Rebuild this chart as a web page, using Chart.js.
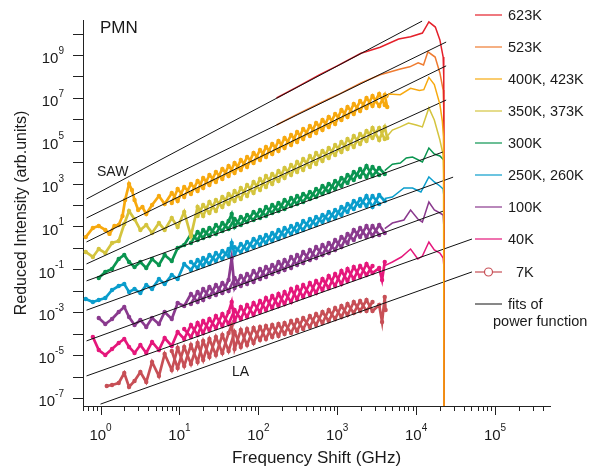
<!DOCTYPE html>
<html>
<head>
<meta charset="utf-8">
<script src="https://cdn.jsdelivr.net/npm/chart.js@4.4.1/dist/chart.umd.min.js"></script>
<style>
  html, body { margin: 0; padding: 0; background: #fff; }
</style>
</head>
<body>
<canvas id="chart" width="600" height="469"></canvas>
<script>
// [frequency GHz, reduced intensity]
const red623 = [[170,9.8e6],[300,3e7],[600,1.2e8],[1000,3.1e8],[2000,1.2e9],[3500,2.3e9],[6000,5.5e9],[8500,7e9],[1.2e4,1.05e10],[1.45e4,3.5e10],[1.75e4,2e10],[2e4,5e9],[2.2e4,8e8],[2.24e4,9.3e7],[2.26e4,1e-9]];
const orange523 = [[170,5.4e5],[300,1.6e6],[600,5.6e6],[1000,1.35e7],[2000,4.9e7],[3500,1.2e8],[6300,2.2e8],[8300,2.8e8],[1.06e4,4.3e8],[1.24e4,3.4e8],[1.41e4,1.4e9],[1.74e4,8e8],[2e4,1.45e8],[2.2e4,2.3e7],[2.24e4,2.7e6],[2.26e4,1e-9]];

// noisy low-frequency scans: "A" traces one edge pattern of the band, "B" the opposite edge
const t400Noisy = [[0.65,3.2],[0.8,8.5],[0.95,10.5],[1.15,6.9],[1.3,4.5],[1.5,10.5],[1.7,11.7],[1.9,31],[2.05,172],[2.3,960],[2.5,502],[2.7,172],[3.0,59],[3.4,81],[3.8,38],[4.5,100],[5.5,264],[6.5,112],[8,364],[9.5,154],[11.5,693],[14,327],[17,1320],[20,624],[24,2520],[29,1190],[35,4800],[42,2260],[50,9140],[60,4300],[72,1.74e4],[87,9140],[105,3.69e4],[125,1.74e4],[150,7.03e4],[180,3.31e4],[215,1.34e5],[260,6.31e4],[310,2.55e5],[370,1.2e5],[450,4.85e5],[540,2.29e5],[650,9.25e5],[780,4.36e5],[940,1.76e6],[1130,9.25e5],[1350,3.74e6],[1620,1.76e6],[1950,7.11e6],[2350,3.36e6],[2800,1.22e7],[3400,4.16e6],[4000,1.36e7],[4300,3.74e6]];
const t400ScanB = [[8,124],[9.5,560],[11.5,237],[14,957],[17,452],[20,1820],[24,861],[29,3480],[35,1640],[42,6620],[50,3120],[60,1.26e4],[72,5940],[87,2.67e4],[105,1.26e4],[125,5.1e4],[150,2.4e4],[180,9.7e4],[215,4.57e4],[260,1.85e5],[310,8.7e4],[370,3.52e5],[450,1.66e5],[540,6.7e5],[650,3.16e5],[780,1.28e6],[940,6.0e5],[1130,2.71e6],[1350,1.28e6],[1620,5.16e6],[1950,2.43e6],[2350,9.8e6],[2800,4.16e6],[3400,1.51e7],[4000,4.63e6]];
const t400Smooth = [[4300,1.0e7],[4500,1.5e7],[6300,1.4e7],[8500,2.8e7],[1.1e4,2.2e7],[1.25e4,2.4e7],[1.45e4,9e7],[1.7e4,4.2e7],[2e4,5e6],[2.15e4,8e5],[2.22e4,1.5e5],[2.26e4,1e-9]];

const t350Noisy = [[0.65,0.65],[0.8,0.38],[0.95,0.89],[1.15,0.58],[1.4,1.7],[1.7,2.1],[2.0,13],[2.3,53],[2.7,22],[3.2,6.9],[3.8,11.7],[4.5,5.0],[5.5,14.5],[6.5,6.9],[8,25],[9.5,9.5],[11.5,47],[14,3.6],[17,81],[20,31],[24,139],[29,53],[35,237],[42,112],[50,452],[60,191],[72,861],[87,364],[105,1640],[125,693],[150,2800],[180,1320],[215,5340],[260,2520],[310,1.02e4],[370,4300],[450,1.94e4],[540,8200],[650,3.31e4],[780,1.56e4],[940,6.31e4],[1130,2.98e4],[1350,1.2e5],[1620,5.09e4],[1950,2.06e5],[2350,9.7e4],[2800,3.92e5],[3400,1.08e5],[4000,4.36e5],[4300,1.34e5]];
const t350ScanB = [[17,31],[20,100],[24,42.6],[29,172],[35,81],[42,327],[50,154],[60,624],[72,264],[87,1190],[105,502],[125,2260],[150,957],[180,3870],[215,1820],[260,7380],[310,3480],[370,1.4e4],[450,5940],[540,2.67e4],[650,1.13e4],[780,4.57e4],[940,2.16e4],[1130,8.7e4],[1350,4.11e4],[1620,1.66e5],[1950,7.03e4],[2350,2.84e5],[2800,1.34e5],[3400,3.92e5],[4000,1.2e5]];
const t350Smooth = [[4300,1.6e5],[5000,3.16e5],[6300,4.4e5],[8000,6.7e5],[1e4,5.4e5],[1.2e4,4.4e5],[1.45e4,3.4e6],[1.7e4,9.3e5],[2e4,1.08e5],[2.2e4,2.16e4],[2.24e4,2520],[2.26e4,1e-9]];

const t300Noisy = [[0.95,0.0395],[1.15,0.0753],[1.4,0.104],[1.7,0.304],[2.0,0.468],[2.3,0.22],[2.7,0.129],[3.2,0.22],[3.8,0.116],[4.5,0.304],[5.5,0.16],[6.5,0.468],[8,0.245],[9.5,0.99],[11.5,1.37],[14,4.46],[17,2.34],[20,6.86],[24,3.6],[29,11.7],[35,6.15],[42,18],[46,38],[50,9.46],[60,27.7],[72,16.2],[87,47.3],[105,24.9],[125,81],[150,42.6],[180,124],[215,65.3],[260,213],[310,112],[370,327],[450,191],[540,560],[650,327],[780,957],[940,560],[1130,1820],[1350,1070],[1620,3480],[1950,2030],[2350,6620],[2800,2260],[3400,5340],[4000,2800]];
const t300ScanB = [[14,1.7],[17,5.53],[20,2.9],[24,8.5],[29,4.46],[35,14.5],[42,7.6],[50,22.3],[60,11.7],[72,34.3],[87,20],[105,58.7],[125,30.8],[150,100],[180,52.7],[215,172],[260,90.2],[310,264],[370,139],[450,406],[540,237],[650,773],[780,406],[940,1320],[1130,773],[1350,2520],[1620,1470],[1950,4800],[2350,2030],[2800,5940],[3400,2520]];
const t300Smooth = [[4000,4000],[5000,8000],[6300,9140],[7500,1.56e4],[9000,1.74e4],[1.2e4,1.02e4],[1.45e4,4.57e4],[1.7e4,2.4e4],[2e4,1.94e4],[2.24e4,1.26e4],[2.26e4,1e-9]];

const t250Noisy = [[0.65,0.00415],[0.8,0.003],[0.95,0.00372],[1.15,0.00461],[1.4,0.0109],[1.7,0.0168],[2.0,0.0207],[2.3,0.0088],[2.7,0.0121],[3.2,0.0079],[3.8,0.0186],[4.5,0.0121],[5.5,0.0355],[6.5,0.0207],[8,0.0545],[9.5,0.0355],[11.5,0.178],[14,0.0933],[17,0.273],[20,0.144],[24,0.468],[29,0.245],[35,0.718],[42,0.42],[46,1.7],[50,0.52],[60,1.52],[72,0.8],[87,2.61],[105,1.37],[125,4.01],[150,2.1],[180,6.86],[215,3.6],[260,10.5],[310,5.53],[370,18],[450,9.46],[540,27.7],[650,16.2],[780,47.3],[940,24.9],[1130,81],[1350,47.3],[1620,154],[1950,90.2],[2350,264],[2800,81],[3400,294],[4000,154]];
const t250ScanB = [[14,0.22],[17,0.116],[20,0.339],[24,0.178],[29,0.58],[35,0.304],[42,0.89],[50,1.07],[60,0.645],[72,1.89],[87,1.07],[105,3.23],[125,1.7],[150,4.97],[180,2.61],[215,8.5],[260,4.46],[310,13.1],[370,6.86],[450,22.3],[540,11.7],[650,34.3],[780,20],[940,58.7],[1130,34.3],[1350,112],[1620,65.3],[1950,191],[2350,90.2],[2800,264],[3400,112]];
const t250Smooth = [[4000,200],[5000,237],[7000,624],[9000,624],[1.15e4,406],[1.45e4,2030],[1.7e4,1190],[2e4,773],[2.2e4,560],[2.24e4,294],[2.26e4,1e-9]];

const t100Noisy = [[0.95,5.38e-4],[1.15,2.82e-4],[1.4,4.83e-4],[1.7,1.03e-3],[2.0,1.75e-3],[2.3,6.0e-4],[2.7,2.54e-4],[3.2,4.35e-4],[3.8,2.05e-4],[4.5,5.38e-4],[5.5,2.82e-4],[6.5,1.03e-3],[8,4.83e-4],[9.5,2.7e-3],[11.5,1.95e-3],[14,7.1e-3],[17,3.0e-3],[20,0.0121],[24,5.14e-3],[29,0.0186],[35,7.9e-3],[42,0.0318],[46,0.339],[50,0.0135],[60,0.049],[72,0.0207],[87,0.0838],[105,0.0355],[125,0.129],[150,0.0607],[180,0.22],[215,0.0933],[260,0.377],[310,0.16],[370,0.645],[450,0.273],[540,1.1],[650,0.468],[780,1.7],[940,0.8],[1130,3.23],[1350,1.7],[1620,6.86],[1950,3.23],[2350,10.5],[2800,3.6],[3400,11.7],[4000,4.97]];
const t100ScanB = [[14,2.42e-3],[17,8.8e-3],[20,3.72e-3],[24,0.015],[29,6.37e-3],[35,0.0231],[42,9.8e-3],[50,0.0395],[60,0.0168],[72,0.0607],[87,0.0257],[105,0.104],[125,0.044],[150,0.16],[180,0.0753],[215,0.273],[260,0.116],[310,0.468],[370,0.198],[450,0.8],[540,0.339],[650,1.37],[780,0.58],[940,2.34],[1130,1.1],[1350,4.46],[1620,2.34],[1950,8.5],[2350,3.23],[2800,10.5],[3400,4.0]];
const t100Smooth = [[4000,8],[5000,14.5],[7000,20],[8500,58.7],[1.05e4,22.3],[1.2e4,16.2],[1.45e4,139],[1.7e4,58.7],[2e4,42.6],[2.2e4,34.3],[2.24e4,11.7],[2.26e4,1e-9]];

const t40Noisy = [[0.8,7.0e-5],[0.95,1.73e-5],[1.15,1.01e-5],[1.4,1.93e-5],[1.7,3.68e-5],[2.0,5.65e-5],[2.3,2.39e-5],[2.7,1.26e-5],[3.2,2.96e-5],[3.8,1.26e-5],[4.5,4.1e-5],[5.5,1.73e-5],[6.5,6.3e-5],[8,2.66e-5],[9.5,1.2e-4],[11.5,5.65e-5],[14,2.54e-4],[17,8.7e-5],[20,3.9e-4],[24,1.49e-4],[29,6.68e-4],[35,2.28e-4],[42,1.03e-3],[46,3.0e-3],[50,3.9e-4],[60,1.75e-3],[72,6.0e-4],[87,2.7e-3],[105,1.03e-3],[125,4.61e-3],[150,1.58e-3],[180,7.1e-3],[215,2.42e-3],[260,0.0121],[310,4.15e-3],[370,0.0186],[450,6.37e-3],[540,0.0286],[650,0.0109],[780,0.049],[940,0.0168],[1130,0.0838],[1350,0.0286],[1620,0.129],[1950,0.044],[2350,0.178],[2800,0.0676],[3400,0.116],[3700,0.0318],[4000,0.22]];
const t40ScanB = [[11.5,1.65e-4],[14,7.0e-5],[17,3.15e-4],[20,1.08e-4],[24,4.83e-4],[29,1.84e-4],[35,8.28e-4],[42,2.82e-4],[50,1.27e-3],[60,4.83e-4],[72,2.18e-3],[87,7.43e-4],[105,3.34e-3],[125,1.27e-3],[150,5.71e-3],[180,1.95e-3],[215,8.8e-3],[260,3.0e-3],[310,0.015],[370,5.14e-3],[450,0.0231],[540,7.9e-3],[650,0.0355],[780,0.0135],[940,0.0607],[1130,0.0207],[1350,0.104],[1620,0.0355],[1950,0.144],[2350,0.0545],[2800,0.144]];
const t40Smooth = [[4000,0.15],[5000,0.22],[6500,0.377],[8500,0.89],[1.05e4,0.304],[1.2e4,0.42],[1.45e4,1.89],[1.7e4,0.8],[2e4,0.58],[2.2e4,0.339],[2.24e4,0.16],[2.26e4,1e-9]];

const t7Noisy = [[1.2,3.63e-7],[1.4,4.04e-7],[1.7,5.0e-7],[2.0,1.47e-6],[2.3,3.26e-7],[2.7,6.2e-7],[3.2,1.63e-6],[3.8,5.57e-7],[4.5,4.78e-6],[5.5,1.06e-6],[6.5,1.13e-5],[8,2.02e-6],[9.5,2.15e-5],[11.5,3.11e-6],[14,2.96e-5],[17,4.78e-6],[20,4.56e-5],[24,8.17e-6],[29,7.0e-5],[35,1.26e-5],[42,1.08e-4],[46,2.54e-4],[50,1.93e-5],[60,1.49e-4],[72,2.96e-5],[87,1.84e-4],[105,5.07e-5],[125,2.28e-4],[150,7.0e-5],[180,2.82e-4],[215,9.66e-5],[260,3.9e-4],[310,1.33e-4],[370,5.38e-4],[450,2.05e-4],[540,8.28e-4],[650,3.15e-4],[780,1.27e-3],[940,4.83e-4],[1130,1.95e-3],[1350,7.43e-4],[1620,3.0e-3],[1950,1.14e-3],[2350,3.72e-3],[2800,1.14e-3],[3400,2.18e-3],[3700,3.5e-4],[4000,5.14e-3],[4100,1.27e-3]];
const t7ScanB = [[8,1.56e-5],[9.5,2.51e-6],[11.5,2.39e-5],[14,3.85e-6],[17,3.67e-5],[20,5.93e-6],[24,5.65e-5],[29,1.01e-5],[35,8.7e-5],[42,1.56e-5],[50,1.2e-4],[60,2.39e-5],[72,1.65e-4],[87,3.67e-5],[105,2.05e-4],[125,5.65e-5],[150,2.54e-4],[180,7.8e-5],[215,3.15e-4],[260,1.08e-4],[310,4.35e-4],[370,1.65e-4],[450,6.68e-4],[540,2.54e-4],[650,1.03e-3],[780,3.9e-4],[940,1.58e-3],[1130,6.0e-4],[1350,2.42e-3],[1620,9.2e-4],[1950,3.34e-3],[2350,1.14e-3],[2800,3.0e-3]];

// power-law fits, two end points each
const fits = [
  [[0.665,191],[1.19e4,3.8e10]],
  [[0.665,25],[2.4e4,4e9]],
  [[0.665,1.9],[2.4e4,3.1e8]],
  [[0.665,0.18],[2.4e4,7.9e6]],
  [[0.665,0.029],[2.2e4,3e4]],
  [[0.665,1.25e-3],[2.94e4,2e3]],
  [[0.665,4.6e-5],[2.2e4,52]],
  [[0.665,1.07e-6],[5.1e4,2.6]],
  [[1,5.2e-8],[5.1e4,0.076]]
];

const legendLabels = ['623K', '523K', '400K, 423K', '350K, 373K', '300K', '250K, 260K', '100K', '40K', '7K'];
const colors = ['#e4202a', '#ef7b30', '#f7a90f', '#d4c43e', '#0a9550', '#0a9dcc', '#8a3a8e', '#e5177b', '#c74f56'];
const yTickExps = [-7,-6,-5,-4,-3,-2,-1,0,1,2,3,4,5,6,7,8,9,10];
const yLabelExps = [-7,-5,-3,-1,1,3,5,7,9];
const xDecades = [0,1,2,3,4,5];
const xMinorDecades = [-1,0,1,2,3,4,5];

const FONT = '"Liberation Sans", Arial, sans-serif';

function toXY(arr) {
  return arr.map(([x, y]) => ({ x, y }));
}

function noisy(data, color) {
  return { data: toXY(data), borderColor: color, backgroundColor: color, borderWidth: 2.7,
    pointRadius: 2.2, pointBorderWidth: 0, pointBackgroundColor: color, order: 2 };
}

function smooth(data, color, order) {
  return { data: toXY(data), borderColor: color, borderWidth: 1.5, pointRadius: 0, order: order };
}

const datasets = [
  smooth(t400Smooth, colors[2], 0),
  smooth(red623, colors[0], 2),
  smooth(orange523, colors[1], 2),
  noisy(t400Noisy, colors[2]),
  noisy(t400ScanB, colors[2]),
  noisy(t350Noisy, colors[3]),
  noisy(t350ScanB, colors[3]),
  smooth(t350Smooth, colors[3], 2),
  noisy(t300Noisy, colors[4]),
  noisy(t300ScanB, colors[4]),
  smooth(t300Smooth, colors[4], 2),
  noisy(t250Noisy, colors[5]),
  noisy(t250ScanB, colors[5]),
  smooth(t250Smooth, colors[5], 2),
  noisy(t100Noisy, colors[6]),
  noisy(t100ScanB, colors[6]),
  smooth(t100Smooth, colors[6], 2),
  noisy(t40Noisy, colors[7]),
  noisy(t40ScanB, colors[7]),
  smooth(t40Smooth, colors[7], 2),
  noisy(t7Noisy, colors[8]),
  noisy(t7ScanB, colors[8])
];
fits.forEach(f => datasets.push({ data: toXY(f), borderColor: '#111', borderWidth: 1, pointRadius: 0, order: 1 }));

function drawPower(ctx, exp, x, y, align) {
  const base = '10', sup = String(exp);
  ctx.font = '15px ' + FONT;
  const wb = ctx.measureText(base).width;
  ctx.font = '10px ' + FONT;
  const ws = ctx.measureText(sup).width;
  const left = align === 'right' ? x - wb - ws : x - (wb + ws) / 2;
  ctx.textAlign = 'left';
  ctx.textBaseline = 'middle';
  ctx.font = '15px ' + FONT;
  ctx.fillText(base, left, y);
  ctx.font = '10px ' + FONT;
  ctx.fillText(sup, left + wb, y - 8);
}

const decor = {
  id: 'decor',
  afterDraw(chart) {
    const { ctx, chartArea: a } = chart;
    const xs = chart.scales.x, ys = chart.scales.y;
    ctx.save();
    ctx.strokeStyle = '#222';
    ctx.fillStyle = '#1a1a1a';
    ctx.lineWidth = 1;

    // y ticks and labels
    yTickExps.forEach(e => {
      const py = Math.round(ys.getPixelForValue(Math.pow(10, e))) + 0.5;
      ctx.beginPath(); ctx.moveTo(a.left - 10, py); ctx.lineTo(a.left, py); ctx.stroke();
    });
    yLabelExps.forEach(e => drawPower(ctx, e, a.left - 19, ys.getPixelForValue(Math.pow(10, e)) + 4, 'right'));

    // x ticks: majors at decades, minors at 2..9
    xMinorDecades.forEach(d => {
      for (let m = 1; m <= 9; m++) {
        const v = m * Math.pow(10, d);
        if (v < xs.min || v > xs.max) continue;
        const px = Math.round(xs.getPixelForValue(v)) + 0.5;
        const len = m === 1 ? 9 : 5;
        ctx.beginPath(); ctx.moveTo(px, a.bottom); ctx.lineTo(px, a.bottom + len); ctx.stroke();
      }
    });
    xDecades.forEach(d => drawPower(ctx, d, xs.getPixelForValue(Math.pow(10, d)), 436, 'center'));

    // axis titles
    ctx.textAlign = 'center';
    ctx.textBaseline = 'middle';
    ctx.font = '17px ' + FONT;
    ctx.fillText('Frequency Shift (GHz)', (a.left + a.right) / 2, 458);
    ctx.save();
    ctx.translate(22, (a.top + a.bottom) / 2);
    ctx.rotate(-Math.PI / 2);
    ctx.font = '16px ' + FONT;
    ctx.fillText('Reduced Intensity (arb.units)', 0, 0);
    ctx.restore();

    // annotations
    ctx.textAlign = 'left';
    ctx.font = '17px ' + FONT;
    ctx.fillText('PMN', 100, 28);
    ctx.font = '14px ' + FONT;
    ctx.fillText('SAW', 97, 172);
    ctx.fillText('LA', 232, 372);

    // legend
    const rows = [15, 47, 79, 111, 143, 175, 207, 239, 272];
    ctx.font = '14.5px ' + FONT;
    legendLabels.forEach((lab, i) => {
      const y = rows[i];
      ctx.strokeStyle = colors[i];
      ctx.lineWidth = 1.2;
      ctx.beginPath(); ctx.moveTo(475, y); ctx.lineTo(502, y); ctx.stroke();
      if (i === 8) {
        ctx.fillStyle = '#fff';
        ctx.beginPath(); ctx.arc(488.5, y, 4, 0, Math.PI * 2); ctx.fill(); ctx.stroke();
      }
      ctx.fillStyle = '#1a1a1a';
      ctx.fillText(lab, i === 8 ? 516 : 508, y + 1);
    });
    ctx.strokeStyle = '#111';
    ctx.lineWidth = 1;
    ctx.beginPath(); ctx.moveTo(475, 304); ctx.lineTo(502, 304); ctx.stroke();
    ctx.fillText('fits of', 508, 305);
    ctx.fillText('power function', 493, 322);
    ctx.restore();
  }
};

new Chart(document.getElementById('chart'), {
  type: 'line',
  data: { datasets },
  options: {
    responsive: false,
    animation: false,
    devicePixelRatio: 1,
    layout: { padding: { top: 20, right: 50, left: 0, bottom: 0 } },
    plugins: { legend: { display: false }, tooltip: { enabled: false } },
    elements: { line: { tension: 0 } },
    scales: {
      x: {
        type: 'logarithmic', min: 0.61, max: 4.97e5,
        grid: { display: false, drawTicks: false },
        border: { display: true, color: '#222', width: 1 },
        ticks: { display: false },
        afterFit(s) { s.height = 63; }
      },
      y: {
        type: 'logarithmic', min: 4.24e-8, max: 4.27e10,
        grid: { display: false, drawTicks: false },
        border: { display: true, color: '#222', width: 1 },
        ticks: { display: false },
        afterFit(s) { s.width = 83; }
      }
    }
  },
  plugins: [decor]
});
</script>
</body>
</html>
